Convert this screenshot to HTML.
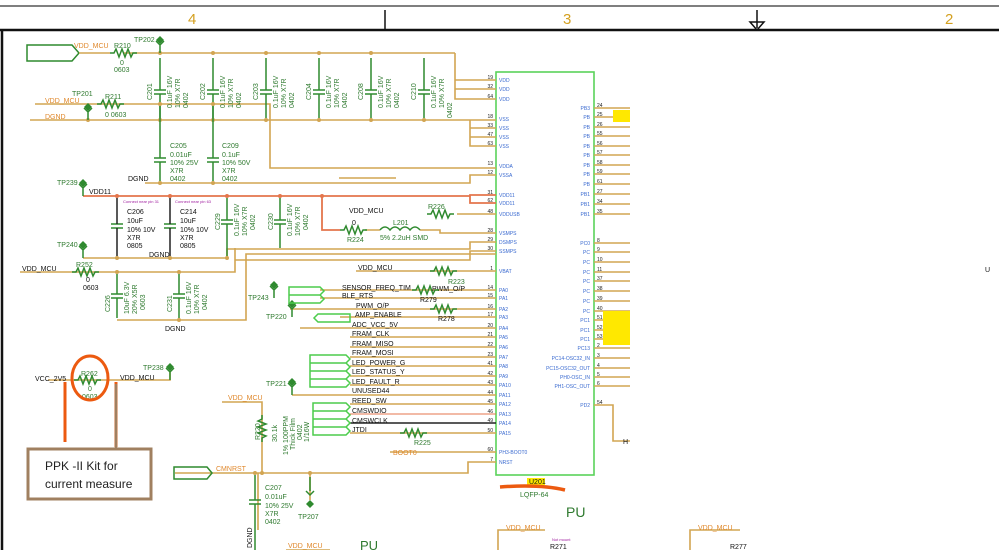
<!DOCTYPE html>
<html><head><meta charset="utf-8"><style>
html,body{margin:0;padding:0;background:#fff;}
svg{display:block;font-family:"Liberation Sans",sans-serif;}
.w{stroke:#d2a552;stroke-width:1.6;fill:none}
.r{stroke:#e4764c;stroke-width:1.8;fill:none}
.g{stroke:#2f8a2f;stroke-width:1.5;fill:none}
.lg{stroke:#4ccc4c;stroke-width:1.5;fill:none}
.t{font-size:7px;fill:#111}
.tg{font-size:7px;fill:#2f7a2f}
.to{font-size:7px;fill:#e0882c}
.tb{font-size:5px;fill:#3a6ad0}
.pn{font-size:5px;fill:#222}
.d{fill:#d2a552}
</style></head><body>
<svg width="999" height="550" viewBox="0 0 999 550" xmlns="http://www.w3.org/2000/svg">
<defs>
<path id="res" d="M0 0 h4 l2 -4 l3 8 l3 -8 l3 8 l3 -8 l3 8 l2 -4 h4" class="g"/>
<path id="resv" d="M0 0 v4 l-4 2 l8 3 l-8 3 l8 3 l-8 3 l8 3 l-4 2 v4" class="g"/>
<g id="cap"><line x1="-6" y1="-2" x2="6" y2="-2" class="g"/><line x1="-6" y1="2" x2="6" y2="2" class="g"/></g>
<g id="tp"><path d="M0 0 v-8 M-4 -12 l4 4 l4 -4" class="g"/><path d="M0 -17 l4 4 l-4 4 l-4 -4z" fill="#2f8a2f"/></g>
</defs>
<!-- frame -->
<line x1="0" y1="6" x2="999" y2="6" stroke="#555" stroke-width="1.5"/>
<line x1="0" y1="30" x2="999" y2="30" stroke="#111" stroke-width="2.5"/>
<line x1="2" y1="30" x2="2" y2="550" stroke="#111" stroke-width="2.5"/>
<line x1="385" y1="10" x2="385" y2="30" stroke="#111" stroke-width="1.5"/>
<path d="M757 10 v18 M750 22 h14 l-7 8z" stroke="#111" stroke-width="1.5" fill="none"/>
<text x="188" y="24" font-size="15" fill="#d4a020">4</text>
<text x="563" y="24" font-size="15" fill="#d4a020">3</text>
<text x="945" y="24" font-size="15" fill="#d4a020">2</text>

<!-- IC -->
<rect x="496" y="72" width="98" height="403" fill="none" stroke="#5ad25a" stroke-width="1.6"/>
<g class="w">
<path d="M455 53 V99 H496 M455 80 H496 M455 89 H496"/>
<path d="M30 120 H496 M470 120 V146 H496 M470 128 H496 M470 137 H496"/>
<path d="M35 104 H270 V137 M270 104 V168 H496"/>
<path d="M145 183 H470 V175 H496"/>
<path d="M83 258 H227 V249 H470 V242 H496"/>
<path d="M339 178 H396 M457 214 H496 M20 272 H235 V248"/>
<path d="M235 260 H470 V251 H496"/>
<path d="M117 320 H246 V254 H496"/>
<path d="M356 271 H496"/>
<path d="M320 290 H496 M320 298 H496 M290 309 H496 M340 317 H496 M300 328 H496 M350 337 H496 M350 347 H496 M350 357 H496 M350 366 H496 M350 376 H496 M350 385 H496 M292 395 H496 M350 404 H496 M350 433 H496 M390 452 H496"/>
<path d="M222 402 H262 V472 M175 473 H468 V462 H496 M258 473 V530 M310 473 V500"/>
<path d="M48 380 H125 M118 380 H170 V372"/>
<path d="M594 108 H630 M594 117 H630 M594 127 H630 M594 136 H630 M594 146 H630 M594 155 H630 M594 165 H630 M594 174 H630 M594 184 H630 M594 194 H630 M594 204 H630 M594 214 H630"/>
<path d="M594 243 H630 M594 252 H630 M594 262 H630 M594 272 H630 M594 281 H630 M594 291 H630 M594 301 H630 M594 311 H630 M594 320 H630 M594 330 H630 M594 339 H630 M594 348 H630 M594 358 H630 M594 368 H630 M594 377 H630 M594 386 H630 M594 405 H613 V441 H630"/>
<path d="M498 550 V530 H545 M690 550 V530 H740"/>
</g>
<path d="M350 414 H496" stroke="#e4764c" stroke-width="1"/>
<path d="M350 423 H496" stroke="#222" stroke-width="1.5"/>
<path class="r" d="M83 196 H470 V203 H496 M470 196 V195 H496 M322 196 V230 H340"/>
<path class="w" d="M365 230 H380 M420 230 H440 V233 H496"/>
<path d="M380 230 q5 -6 10 0 q5 -6 10 0 q5 -6 10 0 q5 -6 10 0" stroke="#2f8a2f" stroke-width="1.5" fill="none"/>

<!-- top caps -->
<g>
<use href="#cap" x="160" y="92"/><use href="#cap" x="213" y="92"/><use href="#cap" x="266" y="92"/><use href="#cap" x="319" y="92"/><use href="#cap" x="371" y="92"/><use href="#cap" x="424" y="92"/>
<path class="g" d="M160 58 V90 M160 94 V118 M213 58 V90 M213 94 V118 M266 58 V90 M266 94 V118 M319 58 V90 M319 94 V118 M371 58 V90 M371 94 V118 M424 58 V90 M424 94 V118"/>
<path class="w" d="M124 53 H455"/>
</g>
<g class="tg" font-size="6">
<text transform="translate(152,100) rotate(-90)">C201</text><text transform="translate(205,100) rotate(-90)">C202</text><text transform="translate(258,100) rotate(-90)">C203</text><text transform="translate(311,100) rotate(-90)">C204</text><text transform="translate(363,100) rotate(-90)">C208</text><text transform="translate(416,100) rotate(-90)">C210</text>
<text transform="translate(172,108) rotate(-90)">0.1uF 16V</text><text transform="translate(180,108) rotate(-90)">10% X7R</text><text transform="translate(188,108) rotate(-90)">0402</text>
<text transform="translate(225,108) rotate(-90)">0.1uF 16V</text><text transform="translate(233,108) rotate(-90)">10% X7R</text><text transform="translate(241,108) rotate(-90)">0402</text>
<text transform="translate(278,108) rotate(-90)">0.1uF 16V</text><text transform="translate(286,108) rotate(-90)">10% X7R</text><text transform="translate(294,108) rotate(-90)">0402</text>
<text transform="translate(331,108) rotate(-90)">0.1uF 16V</text><text transform="translate(339,108) rotate(-90)">10% X7R</text><text transform="translate(347,108) rotate(-90)">0402</text>
<text transform="translate(383,108) rotate(-90)">0.1uF 16V</text><text transform="translate(391,108) rotate(-90)">10% X7R</text><text transform="translate(399,108) rotate(-90)">0402</text>
<text transform="translate(436,108) rotate(-90)">0.1uF 16V</text><text transform="translate(444,108) rotate(-90)">10% X7R</text><text transform="translate(452,118) rotate(-90)">0402</text>
</g>
<g class="d"><circle cx="160" cy="53" r="2"/><circle cx="213" cy="53" r="2"/><circle cx="266" cy="53" r="2"/><circle cx="319" cy="53" r="2"/><circle cx="371" cy="53" r="2"/><circle cx="160" cy="120" r="2"/><circle cx="213" cy="120" r="2"/><circle cx="266" cy="120" r="2"/><circle cx="319" cy="120" r="2"/><circle cx="371" cy="120" r="2"/><circle cx="424" cy="120" r="2"/><circle cx="88" cy="120" r="2"/>
<circle cx="160" cy="104" r="2"/><circle cx="213" cy="104" r="2"/><circle cx="160" cy="183" r="2"/><circle cx="213" cy="183" r="2"/>
<circle cx="117" cy="258" r="2"/><circle cx="170" cy="258" r="2"/><circle cx="227" cy="258" r="2"/><circle cx="117" cy="272" r="2"/><circle cx="179" cy="272" r="2"/><circle cx="179" cy="320" r="2"/><circle cx="255" cy="473" r="2"/><circle cx="262" cy="473" r="2"/><circle cx="310" cy="473" r="2"/></g>
<g fill="#e4764c"><circle cx="117" cy="196" r="2"/><circle cx="170" cy="196" r="2"/><circle cx="227" cy="196" r="2"/><circle cx="280" cy="196" r="2"/><circle cx="322" cy="196" r="2"/></g>

<!-- VDD_MCU top -->
<path d="M27 45 H72 L79 53 L72 61 H27z" class="g"/>
<path class="w" d="M79 53 H110"/>
<use href="#res" x="110" y="53"/>
<text x="74" y="48" class="to" font-size="6">VDD_MCU</text>
<text x="114" y="48" class="tg" font-size="6">R210</text>
<text x="120" y="65" class="tg" font-size="6">0</text><text x="114" y="72" class="tg" font-size="6">0603</text>
<use href="#tp" x="160" y="53"/><text x="134" y="42" class="tg" font-size="7">TP202</text>
<use href="#tp" x="88" y="120"/><text x="72" y="96" class="tg" font-size="7">TP201</text>
<text x="45" y="119" class="to" font-size="6">DGND</text>
<text x="45" y="103" class="to" font-size="6">VDD_MCU</text>
<use href="#res" x="97" y="104"/><text x="105" y="99" class="tg" font-size="6">R211</text><text x="105" y="148" class="tg" font-size="6"></text><text x="105" y="148" class="tg" font-size="6"></text>
<text x="105" y="148" class="tg"></text>
<text x="105" y="148"></text>
<text x="105" y="117" class="tg" font-size="6">0  0603</text>
<use href="#cap" x="160" y="160"/><use href="#cap" x="213" y="160"/>
<path class="g" d="M160 106 V158 M160 162 V181 M213 106 V158 M213 162 V181"/>
<text x="170" y="148" class="tg" font-size="7">C205</text><text x="170" y="157" class="tg" font-size="7">0.01uF</text><text x="170" y="165" class="tg" font-size="6">10%  25V</text><text x="170" y="173" class="tg" font-size="6">X7R</text><text x="170" y="181" class="tg" font-size="6">0402</text>
<text x="222" y="148" class="tg" font-size="7">C209</text><text x="222" y="157" class="tg" font-size="7">0.1uF</text><text x="222" y="165" class="tg" font-size="6">10%  50V</text><text x="222" y="173" class="tg" font-size="6">X7R</text><text x="222" y="181" class="tg" font-size="6">0402</text>
<text x="128" y="181" class="t" font-size="6">DGND</text>
<use href="#tp" x="83" y="196"/><text x="57" y="185" class="tg" font-size="7">TP239</text>
<text x="89" y="194" class="t" font-size="6">VDD11</text>
<text x="123" y="203" font-size="4" fill="#a020a0">Connect near pin 31</text><text x="175" y="203" font-size="4" fill="#a020a0">Connect near pin 63</text>
<use href="#cap" x="117" y="226"/><use href="#cap" x="170" y="226"/><use href="#cap" x="227" y="222"/><use href="#cap" x="280" y="222"/>
<path d="M117 198 V224 M117 228 V256 M170 198 V224 M170 228 V256" stroke="#222" stroke-width="1.5"/>
<path class="g" d="M227 198 V220 M227 224 V256 M280 198 V220 M280 224 V248"/>
<text x="127" y="214" class="t" font-size="7">C206</text><text x="127" y="223" class="t" font-size="7">10uF</text><text x="127" y="232" class="t" font-size="6">10%  10V</text><text x="127" y="240" class="t" font-size="6">X7R</text><text x="127" y="248" class="t" font-size="6">0805</text>
<text x="180" y="214" class="t" font-size="7">C214</text><text x="180" y="223" class="t" font-size="7">10uF</text><text x="180" y="232" class="t" font-size="6">10%  10V</text><text x="180" y="240" class="t" font-size="6">X7R</text><text x="180" y="248" class="t" font-size="6">0805</text>
<text x="149" y="257" class="t" font-size="6">DGND</text>
<g class="tg" font-size="6"><text transform="translate(220,230) rotate(-90)">C229</text><text transform="translate(273,230) rotate(-90)">C230</text>
<text transform="translate(239,236) rotate(-90)">0.1uF 16V</text><text transform="translate(247,236) rotate(-90)">10% X7R</text><text transform="translate(255,230) rotate(-90)">0402</text>
<text transform="translate(292,236) rotate(-90)">0.1uF 16V</text><text transform="translate(300,236) rotate(-90)">10% X7R</text><text transform="translate(308,230) rotate(-90)">0402</text></g>
<use href="#tp" x="83" y="258"/><text x="57" y="247" class="tg" font-size="7">TP240</text>
<text x="349" y="213" class="t" font-size="6">VDD_MCU</text><use href="#res" x="427" y="214"/><text x="428" y="209" class="tg" font-size="6">R226</text>
<use href="#res" x="340" y="230"/><text x="352" y="225" class="t" font-size="5">0</text><text x="347" y="242" class="tg" font-size="6">R224</text>
<text x="393" y="225" class="tg" font-size="6">L201</text><text x="380" y="240" class="tg" font-size="6">5%  2.2uH SMD</text>
<text x="22" y="271" class="t" font-size="6">VDD_MCU</text><use href="#res" x="72" y="272"/><text x="76" y="267" class="tg" font-size="6">R252</text><text x="86" y="282" class="t" font-size="5">0</text><text x="83" y="290" class="t" font-size="5">0603</text>
<use href="#cap" x="117" y="296"/><use href="#cap" x="179" y="296"/>
<path class="g" d="M117 274 V294 M117 298 V318 M179 274 V294 M179 298 V318"/>
<g class="tg" font-size="6"><text transform="translate(110,312) rotate(-90)">C226</text><text transform="translate(172,312) rotate(-90)">C231</text>
<text transform="translate(129,314) rotate(-90)">10uF 6.3V</text><text transform="translate(137,314) rotate(-90)">20% X5R</text><text transform="translate(145,310) rotate(-90)">0603</text>
<text transform="translate(191,314) rotate(-90)">0.1uF 16V</text><text transform="translate(199,314) rotate(-90)">10% X7R</text><text transform="translate(207,310) rotate(-90)">0402</text></g>
<text x="165" y="331" class="t" font-size="6">DGND</text>

<!-- PA signals -->
<text x="358" y="270" class="t" font-size="6">VDD_MCU</text><use href="#res" x="430" y="271"/><text x="448" y="284" class="tg" font-size="6">R223</text>
<use href="#tp" x="274" y="298"/><text x="248" y="300" class="tg" font-size="7">TP243</text>
<use href="#tp" x="292" y="317"/><text x="266" y="319" class="tg" font-size="7">TP220</text>
<path class="lg" d="M289 287 H320 L324 291 L320 295 H289z M289 295 H320 L324 299 L320 303 H289z M318 314 H350 V322 H318 L314 318z"/>
<path class="lg" d="M310 355 H346 L350 359 L346 363 H310z M310 363 H346 L350 367 L346 371 H310z M310 371 H346 L350 375 L346 379 H310z M310 379 H346 L350 383 L346 387 H310z"/>
<path class="lg" d="M313 403 H346 L350 407 L346 411 H313z M313 411 H346 L350 415 L346 419 H313z M313 419 H346 L350 423 L346 427 H313z M313 427 H346 L350 431 L346 435 H313z"/>
<g class="t" font-size="6.5">
<text x="342" y="290">SENSOR_FREQ_TIM</text><text x="342" y="298">BLE_RTS</text><text x="356" y="308">PWM_O/P</text><text x="355" y="317">AMP_ENABLE</text><text x="352" y="327">ADC_VCC_5V</text><text x="352" y="336">FRAM_CLK</text><text x="352" y="346">FRAM_MISO</text><text x="352" y="355">FRAM_MOSI</text><text x="352" y="365">LED_POWER_G</text><text x="352" y="374">LED_STATUS_Y</text><text x="352" y="384">LED_FAULT_R</text><text x="352" y="393">UNUSED44</text><text x="352" y="403">REED_SW</text><text x="352" y="413">CMSWDIO</text><text x="352" y="423">CMSWCLK</text><text x="352" y="432">JTDI</text>
<text x="432" y="291">PWM_O/P</text></g>
<use href="#res" x="412" y="290"/><use href="#res" x="430" y="309"/><use href="#res" x="400" y="433"/>
<text x="420" y="302" class="t" font-size="5">R279</text><text x="438" y="321" class="t" font-size="5">R278</text><text x="414" y="445" class="tg" font-size="6">R225</text>
<text x="393" y="455" class="to" font-size="6">BOOT0</text>
<use href="#tp" x="292" y="395"/><text x="266" y="386" class="tg" font-size="7">TP221</text>
<text x="228" y="400" class="to" font-size="6">VDD_MCU</text>
<use href="#resv" x="262" y="415"/>
<g class="tg" font-size="6"><text transform="translate(260,440) rotate(-90)">R220</text><text transform="translate(277,442) rotate(-90)">30.1k</text><text transform="translate(288,455) rotate(-90)">1% 100PPM</text><text transform="translate(295,450) rotate(-90)">Thick Film</text><text transform="translate(302,440) rotate(-90)">0402</text><text transform="translate(309,442) rotate(-90)">1/16W</text></g>
<path class="g" d="M174 467 H207 L212 473 L207 479 H174z"/>
<text x="216" y="471" class="to" font-size="6">CMNRST</text>
<use href="#cap" x="255" y="502"/><path class="g" d="M255 475 V500 M255 504 V550"/>
<text x="265" y="490" class="tg" font-size="7">C207</text><text x="265" y="499" class="tg" font-size="7">0.01uF</text><text x="265" y="508" class="tg" font-size="6">10%  25V</text><text x="265" y="516" class="tg" font-size="6">X7R</text><text x="265" y="524" class="tg" font-size="6">0402</text>
<text transform="translate(252,548) rotate(-90)" class="t" font-size="6">DGND</text>
<path d="M310 477 v14 M306 491 l4 4 l4 -4" class="g"/><path d="M310 500 l4 4 l-4 4 l-4 -4z" fill="#2f8a2f"/>
<text x="298" y="519" class="tg" font-size="7">TP207</text>
<text x="288" y="548" class="to" font-size="6">VDD_MCU</text><path class="w" d="M286 550 H330"/>
<text x="360" y="550" font-size="13" fill="#2f7a2f">PU</text>

<!-- VCC_2V5 -->
<text x="35" y="381" class="t" font-size="6">VCC_2V5</text><use href="#res" x="74" y="380"/>
<text x="81" y="376" class="tg" font-size="5">R262</text><text x="88" y="391" class="tg" font-size="5">0</text><text x="82" y="399" class="tg" font-size="5">0603</text>
<text x="120" y="380" class="t" font-size="6">VDD_MCU</text>
<use href="#tp" x="170" y="380"/><text x="143" y="370" class="tg" font-size="7">TP238</text>
<ellipse cx="90" cy="378" rx="18" ry="22" fill="none" stroke="#ec5a10" stroke-width="3"/>
<path d="M65 382 V442 M116 382 V447" stroke="#ec5a10" stroke-width="3" fill="none"/>
<path d="M116 384 V448" stroke="#a08060" stroke-width="2.5"/>
<rect x="28" y="449" width="123" height="50" fill="#fff" stroke="#a08060" stroke-width="3"/>
<text x="45" y="470" font-size="12" fill="#222">PPK -II Kit for</text>
<text x="45" y="488" font-size="12" fill="#222">current measure</text>

<!-- right pin labels -->
<g class="tb" text-anchor="end">
<text x="590" y="110">PB3</text><text x="590" y="119">PB</text><text x="590" y="129">PB</text><text x="590" y="138">PB</text><text x="590" y="148">PB</text><text x="590" y="157">PB</text><text x="590" y="167">PB</text><text x="590" y="176">PB</text><text x="590" y="186">PB</text><text x="590" y="196">PB1</text><text x="590" y="206">PB1</text><text x="590" y="216">PB1</text>
<text x="590" y="245">PC0</text><text x="590" y="254">PC</text><text x="590" y="264">PC</text><text x="590" y="274">PC</text><text x="590" y="283">PC</text><text x="590" y="293">PC</text><text x="590" y="303">PC</text><text x="590" y="313">PC</text><text x="590" y="322">PC1</text><text x="590" y="332">PC1</text><text x="590" y="341">PC1</text><text x="590" y="350">PC13</text><text x="590" y="360">PC14-OSC32_IN</text><text x="590" y="370">PC15-OSC32_OUT</text><text x="590" y="379">PH0-OSC_IN</text><text x="590" y="388">PH1-OSC_OUT</text><text x="590" y="407">PD2</text>
</g>
<g class="pn"><text x="597" y="107">24</text><text x="597" y="116">25</text><text x="597" y="126">26</text><text x="597" y="135">55</text><text x="597" y="145">56</text><text x="597" y="154">57</text><text x="597" y="164">58</text><text x="597" y="173">59</text><text x="597" y="183">61</text><text x="597" y="193">27</text><text x="597" y="203">34</text><text x="597" y="213">35</text>
<text x="597" y="242">8</text><text x="597" y="251">9</text><text x="597" y="261">10</text><text x="597" y="271">11</text><text x="597" y="280">37</text><text x="597" y="290">38</text><text x="597" y="300">39</text><text x="597" y="310">40</text><text x="597" y="319">51</text><text x="597" y="329">52</text><text x="597" y="338">53</text><text x="597" y="347">2</text><text x="597" y="357">3</text><text x="597" y="367">4</text><text x="597" y="376">5</text><text x="597" y="385">6</text><text x="597" y="404">54</text></g>
<rect x="613" y="110" width="17" height="12" fill="#ffe800"/>
<rect x="603" y="311" width="27" height="34" fill="#ffe800"/>
<text x="623" y="444" class="t" font-size="7">H</text>
<text x="985" y="272" class="t" font-size="6">U</text>

<!-- left pin labels -->
<g class="tb"><text x="499" y="82">VDD</text><text x="499" y="91">VDD</text><text x="499" y="101">VDD</text><text x="499" y="121">VSS</text><text x="499" y="130">VSS</text><text x="499" y="139">VSS</text><text x="499" y="148">VSS</text><text x="499" y="168">VDDA</text><text x="499" y="177">VSSA</text><text x="499" y="197">VDD11</text><text x="499" y="205">VDD11</text><text x="499" y="216">VDDUSB</text><text x="499" y="235">VSMPS</text><text x="499" y="244">DSMPS</text><text x="499" y="253">SSMPS</text><text x="499" y="273">VBAT</text>
<text x="499" y="292">PA0</text><text x="499" y="300">PA1</text><text x="499" y="311">PA2</text><text x="499" y="319">PA3</text><text x="499" y="330">PA4</text><text x="499" y="339">PA5</text><text x="499" y="349">PA6</text><text x="499" y="359">PA7</text><text x="499" y="368">PA8</text><text x="499" y="378">PA9</text><text x="499" y="387">PA10</text><text x="499" y="397">PA11</text><text x="499" y="406">PA12</text><text x="499" y="416">PA13</text><text x="499" y="425">PA14</text><text x="499" y="435">PA15</text><text x="499" y="454">PH3-BOOT0</text><text x="499" y="464">NRST</text></g>
<g class="pn" text-anchor="end"><text x="493" y="79">19</text><text x="493" y="88">32</text><text x="493" y="98">64</text><text x="493" y="118">18</text><text x="493" y="127">33</text><text x="493" y="136">47</text><text x="493" y="145">63</text><text x="493" y="165">13</text><text x="493" y="174">12</text><text x="493" y="194">31</text><text x="493" y="202">62</text><text x="493" y="213">48</text><text x="493" y="232">28</text><text x="493" y="241">29</text><text x="493" y="250">30</text><text x="493" y="270">1</text>
<text x="493" y="289">14</text><text x="493" y="297">15</text><text x="493" y="308">16</text><text x="493" y="316">17</text><text x="493" y="327">20</text><text x="493" y="336">21</text><text x="493" y="346">22</text><text x="493" y="356">23</text><text x="493" y="365">41</text><text x="493" y="375">42</text><text x="493" y="384">43</text><text x="493" y="394">44</text><text x="493" y="403">45</text><text x="493" y="413">46</text><text x="493" y="422">49</text><text x="493" y="432">50</text><text x="493" y="451">60</text><text x="493" y="461">7</text></g>

<!-- U201 -->
<rect x="527" y="478" width="18" height="7" fill="#ffe800"/>
<text x="529" y="484" class="t" font-size="6">U201</text>
<path d="M500 487 Q540 484 565 490" stroke="#ec5a10" stroke-width="3.5" fill="none"/>
<text x="520" y="497" class="tg" font-size="6">LQFP-64</text>
<text x="566" y="517" font-size="14" fill="#2f7a2f">PU</text>
<text x="506" y="530" class="to" font-size="6">VDD_MCU</text><text x="552" y="541" font-size="4" fill="#a020a0">Not mount</text><text x="550" y="549" class="t" font-size="6">R271</text>
<text x="698" y="530" class="to" font-size="6">VDD_MCU</text><text x="730" y="549" class="t" font-size="6">R277</text>
</svg>
</body></html>
